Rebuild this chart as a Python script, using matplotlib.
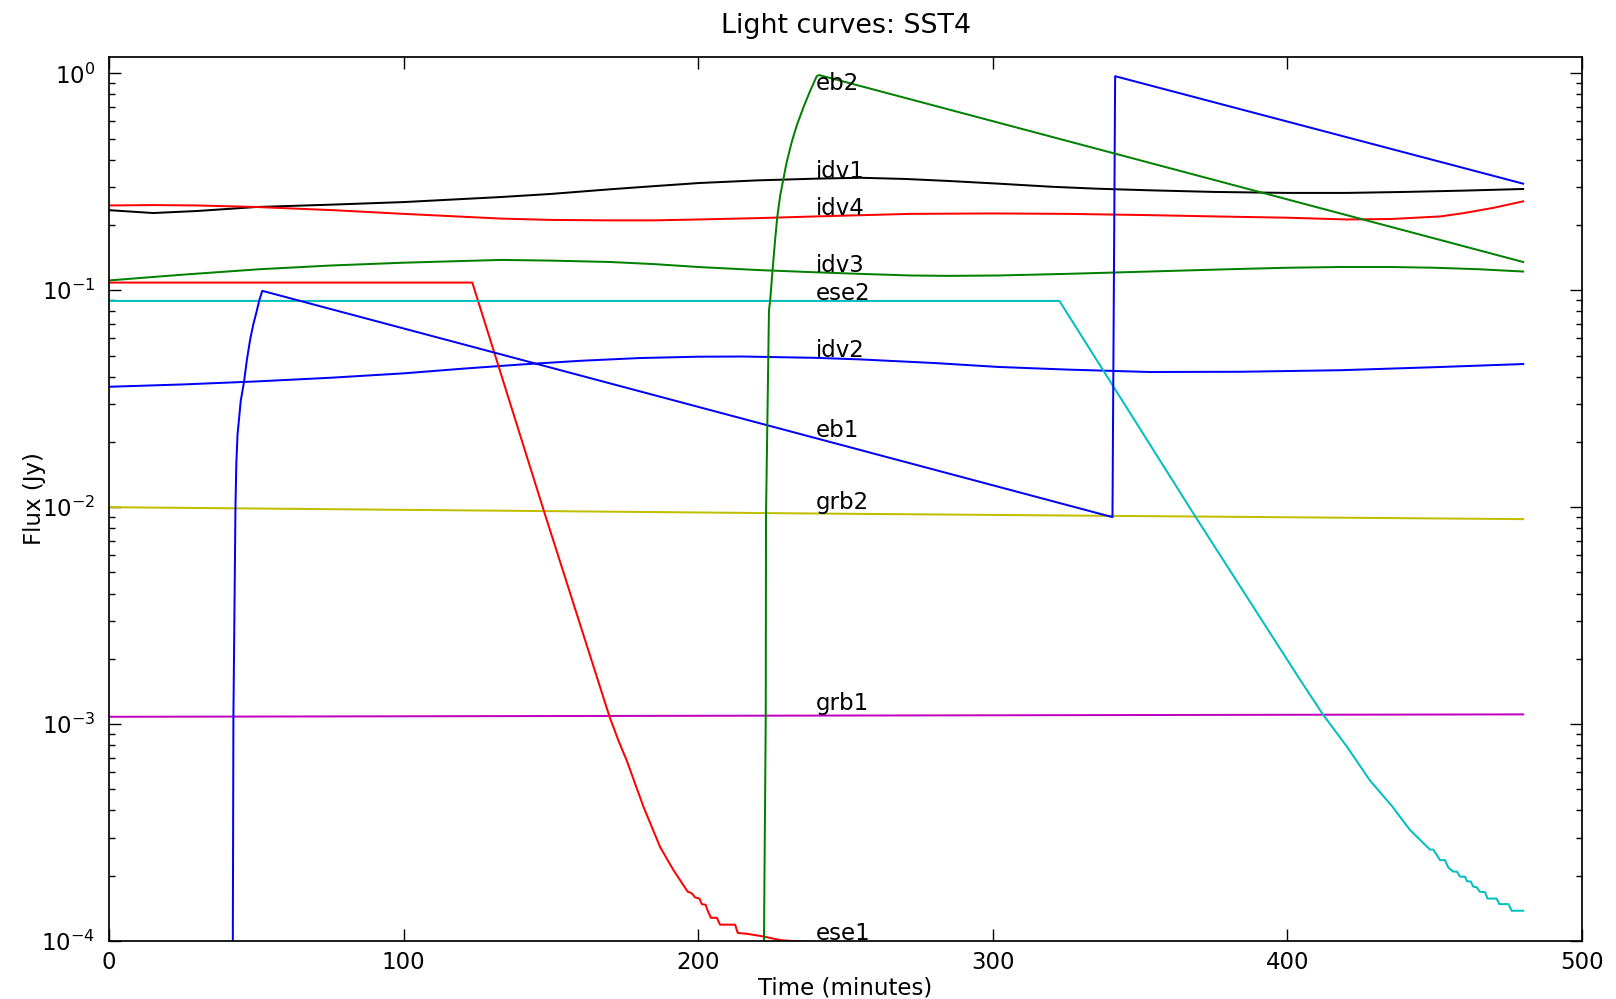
import matplotlib
matplotlib.use("Agg")
import matplotlib.pyplot as plt

# light curves: time (minutes), flux (Jy)
idv1_t = [0, 15, 30, 50, 75, 100, 133, 150, 170, 185, 200, 220, 240, 255, 270, 285,
          302, 320, 335, 353, 375, 400, 420, 440, 460, 480]
idv1_f = [0.234, 0.227, 0.232, 0.242, 0.248, 0.255, 0.269, 0.278, 0.292, 0.302, 0.312,
          0.321, 0.327, 0.330, 0.326, 0.319, 0.310, 0.300, 0.294, 0.289, 0.284, 0.281,
          0.281, 0.284, 0.288, 0.293]

idv4_t = [0, 15, 30, 50, 76, 100, 133, 150, 170, 185, 200, 220, 240, 272, 300, 325,
          353, 375, 400, 420, 435, 452, 460, 470, 480]
idv4_f = [0.246, 0.247, 0.246, 0.242, 0.234, 0.225, 0.214, 0.211, 0.210, 0.210, 0.212,
          0.215, 0.219, 0.225, 0.226, 0.225, 0.222, 0.219, 0.216, 0.212, 0.213, 0.219,
          0.227, 0.240, 0.257]

idv3_t = [0, 25, 51, 75, 100, 133, 150, 170, 185, 200, 220, 240, 255, 272, 285, 302,
          325, 353, 380, 400, 418, 435, 450, 465, 480]
idv3_f = [0.111, 0.118, 0.125, 0.130, 0.134, 0.138, 0.137, 0.135, 0.132, 0.128, 0.124,
          0.121, 0.119, 0.117, 0.1165, 0.117, 0.119, 0.122, 0.125, 0.127, 0.128, 0.128,
          0.127, 0.125, 0.122]

idv2_t = [0, 25, 50, 75, 100, 120, 140, 160, 180, 200, 215, 240, 255, 280, 302, 325,
          353, 384, 418, 450, 480]
idv2_f = [0.0359, 0.0368, 0.038, 0.0395, 0.0414, 0.0435, 0.0455, 0.0473, 0.0487, 0.0494,
          0.0495, 0.0488, 0.048, 0.0462, 0.0443, 0.0431, 0.042, 0.0421, 0.0428, 0.0442,
          0.0457]

eb1_t = [41.95, 42.2, 42.9, 43.2, 43.6, 44.7, 45.8, 46.8, 47.9, 49.0, 50.1, 51.0, 52.0,
         340.6, 341.5, 480]
eb1_f = [5e-5, 1.07e-3, 1.0e-2, 0.016, 0.0216, 0.031, 0.0378, 0.048, 0.0594, 0.070, 0.080,
         0.090, 0.0994, 0.0090, 0.97, 0.310]

eb2_t = [221.9, 222.3, 222.9, 223.0, 224.0, 224.4, 225.2, 226.1, 226.8, 227.8, 228.9, 230.0,
         231.7, 233.4, 235.7, 238.0, 240.2, 241.0, 480]
eb2_f = [5e-5, 1e-4, 1.07e-3, 9.4e-3, 0.0806, 0.0896, 0.123, 0.172, 0.217, 0.273, 0.326,
         0.389, 0.481, 0.574, 0.697, 0.832, 0.969, 0.982, 0.135]

ese1_t = [0, 123.3, 147.5, 169.9, 172.9, 175.7, 181.4, 187.0, 191.6, 196.4, 197.8, 198.9,
          200.4, 201.2, 202.5, 203.2, 204.3, 206.3, 207.4, 212.5, 213.4, 216.5, 222.1,
          227.8, 232.3, 260, 480]
ese1_f = [0.1085, 0.1085, 0.0097, 1.08e-3, 8.4e-4, 6.8e-4, 4.16e-4, 2.72e-4, 2.12e-4, 1.69e-4,
          1.66e-4, 1.59e-4, 1.57e-4, 1.48e-4, 1.47e-4, 1.38e-4, 1.28e-4, 1.28e-4, 1.19e-4,
          1.19e-4, 1.09e-4, 1.08e-4, 1.05e-4, 1.01e-4, 1.0e-4, 9.6e-5, 5e-5]

ese2_t = [0, 322.6, 368.4, 404.3, 412.2, 420.1, 428.0, 435.4, 441.6, 448.4, 449.5, 451.8,
          453.5, 454.6, 456.3, 457.5, 458.6, 460.3, 460.9, 462.2, 463.1, 464.3, 465.2,
          467.1, 467.9, 471.0, 471.9, 475.0, 476.1, 480]
ese2_f = [0.0893, 0.0893, 0.0092, 1.6e-3, 1.1e-3, 7.9e-4, 5.5e-4, 4.2e-4, 3.25e-4, 2.64e-4,
          2.64e-4, 2.36e-4, 2.36e-4, 2.18e-4, 2.09e-4, 2.09e-4, 1.98e-4, 1.98e-4, 1.89e-4,
          1.88e-4, 1.78e-4, 1.77e-4, 1.69e-4, 1.68e-4, 1.57e-4, 1.57e-4, 1.48e-4, 1.48e-4,
          1.38e-4, 1.38e-4]

grb2_t = [0, 240, 480]
grb2_f = [0.0100, 0.00935, 0.00881]

grb1_t = [0, 480]
grb1_f = [1.081e-3, 1.109e-3]

# where each name is written (time, flux)
label_t = 240
label_names = ["eb2", "idv1", "idv4", "idv3", "ese2", "idv2", "eb1", "grb2", "grb1", "ese1"]
label_f = [0.841, 0.3307, 0.2218, 0.1214, 0.0899, 0.0493, 0.0211, 0.00986, 1.16e-3, 1.01e-4]

plt.rcParams["axes.unicode_minus"] = False
plt.rcParams["font.size"] = 13.2
plt.rcParams["xtick.direction"] = "in"
plt.rcParams["ytick.direction"] = "in"
plt.rcParams["xtick.top"] = True
plt.rcParams["ytick.right"] = True

fig = plt.figure(figsize=(12.928, 7.992), dpi=125)
ax = fig.add_axes([0.0675, 0.058, 0.9115, 0.885])

lw = 1.15
ax.plot(idv1_t, idv1_f, color="k", linewidth=lw)
ax.plot(idv4_t, idv4_f, color="r", linewidth=lw)
ax.plot(idv3_t, idv3_f, color=(0, 0.5, 0), linewidth=lw)
ax.plot(idv2_t, idv2_f, color="b", linewidth=lw)
ax.plot(grb2_t, grb2_f, color=(0.75, 0.75, 0), linewidth=lw)
ax.plot(grb1_t, grb1_f, color=(0.75, 0, 0.75), linewidth=lw)
ax.plot(ese1_t, ese1_f, color="r", linewidth=lw)
ax.plot(ese2_t, ese2_f, color=(0, 0.75, 0.75), linewidth=lw)
ax.plot(eb1_t, eb1_f, color="b", linewidth=lw)
ax.plot(eb2_t, eb2_f, color=(0, 0.5, 0), linewidth=lw)

for name, f in zip(label_names, label_f):
    ax.text(label_t, f, name, va="baseline", ha="left")

ax.set_yscale("log")
ax.set_xlim(0, 500)
ax.set_ylim(1e-4, 1.19)
ax.set_xticks([0, 100, 200, 300, 400, 500])
ax.tick_params(which="major", length=7, width=0.8, pad=6)
ax.tick_params(which="minor", length=3.5, width=0.8)
ax.tick_params(axis="y", pad=8)
for s in ax.spines.values():
    s.set_linewidth(1.0)

ax.set_title("Light curves: SST4", fontsize=15.5, pad=14)
ax.set_xlabel("Time (minutes)", labelpad=1)
ax.set_ylabel("Flux (Jy)", labelpad=-3)

fig.savefig("out.png", dpi=125, facecolor="white")
